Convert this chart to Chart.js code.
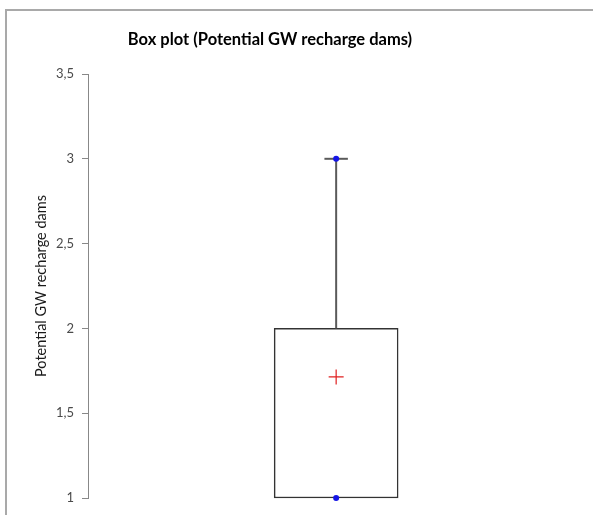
<!DOCTYPE html>
<html>
<head>
<meta charset="utf-8">
<script src="https://cdn.jsdelivr.net/npm/chart.js@4.4.1/dist/chart.umd.min.js"></script>
<style>
  html, body { margin: 0; padding: 0; background: #ffffff; }
  canvas { display: block; }
</style>
</head>
<body>
<canvas id="c" width="593" height="515"></canvas>
<script>
// Summary statistics of the box plot
const boxPosition = [1];          // x position of the single box
const quartiles = [1, 2];         // Q1 .. Q3
const whiskerTop = [2, 3];        // from Q3 up to the maximum
const extremes = [1, 3];          // minimum and maximum
const meanValue = [1.714];        // mean
const yTicks = [1, 1.5, 2, 2.5, 3, 3.5];

const FONT = 'Lato, "Open Sans", "Liberation Sans", sans-serif';
const capHalf = 0.052;            // half-width of the whisker cap, in x units

const x0 = boxPosition[0];

// White page with a thin grey frame on the left and top, plus the chart title
const framePlugin = {
  id: 'frame',
  beforeDraw(chart) {
    const ctx = chart.ctx;
    ctx.save();
    ctx.fillStyle = '#ffffff';
    ctx.fillRect(0, 0, chart.width, chart.height);
    ctx.fillStyle = '#a9a9a9';
    ctx.fillRect(5, 9, 2, chart.height - 9);
    ctx.fillRect(5, 9, chart.width - 5, 2);
    ctx.restore();
  },
  afterDraw(chart) {
    const ctx = chart.ctx;
    ctx.save();
    ctx.font = 'bold 16.5px ' + FONT;
    ctx.fillStyle = '#000000';
    ctx.textAlign = 'center';
    ctx.textBaseline = 'middle';
    ctx.fillText('Box plot (Potential GW recharge dams)', 270, 40);
    ctx.restore();
  }
};

new Chart(document.getElementById('c'), {
  type: 'bar',
  data: {
    datasets: [
      {
        type: 'scatter',
        data: [{ x: x0, y: meanValue[0] }],
        pointStyle: 'cross',
        radius: 7.5,
        borderColor: '#e02020',
        backgroundColor: '#e02020',
        borderWidth: 1.2,
        clip: false
      },
      {
        type: 'scatter',
        data: extremes.map(v => ({ x: x0, y: v })),
        pointStyle: 'circle',
        radius: 3,
        borderWidth: 0,
        backgroundColor: '#1414e6',
        clip: false
      },
      {
        type: 'line',
        data: whiskerTop.map(v => ({ x: x0, y: v })),
        borderColor: '#5a5a5a',
        borderWidth: 2,
        pointRadius: 0,
        clip: false
      },
      {
        type: 'line',
        data: [{ x: x0 - capHalf, y: extremes[1] }, { x: x0 + capHalf, y: extremes[1] }],
        borderColor: '#5a5a5a',
        borderWidth: 2,
        pointRadius: 0,
        clip: false
      },
      {
        type: 'bar',
        data: [{ x: x0, y: quartiles }],
        backgroundColor: '#ffffff',
        borderColor: '#333333',
        borderWidth: 1.5,
        borderSkipped: false,
        barThickness: 124,
        clip: false
      }
    ]
  },
  options: {
    responsive: false,
    animation: false,
    events: [],
    layout: { padding: { top: 74, bottom: 17, left: 0, right: 7 } },
    plugins: {
      legend: { display: false },
      tooltip: { enabled: false },
      title: { display: false }
    },
    scales: {
      x: {
        type: 'linear',
        min: 0,
        max: 2,
        display: false
      },
      y: {
        type: 'linear',
        min: yTicks[0],
        max: yTicks[yTicks.length - 1],
        afterBuildTicks(scale) {
          scale.ticks = yTicks.map(v => ({ value: v }));
        },
        afterFit(scale) { scale.width = 88; },
        border: { display: true, color: '#888888', width: 1 },
        grid: {
          drawOnChartArea: false,
          drawTicks: true,
          tickLength: 6,
          color: '#888888'
        },
        ticks: {
          padding: 8,
          color: '#4a4a4a',
          font: { family: FONT, size: 13 },
          callback: v => String(v).replace('.', ',')
        },
        title: {
          display: true,
          text: 'Potential GW recharge dams',
          color: '#1a1a1a',
          font: { family: FONT, size: 14.5 },
          padding: { top: 33, bottom: 0 }
        }
      }
    }
  },
  plugins: [framePlugin]
});
</script>
</body>
</html>
